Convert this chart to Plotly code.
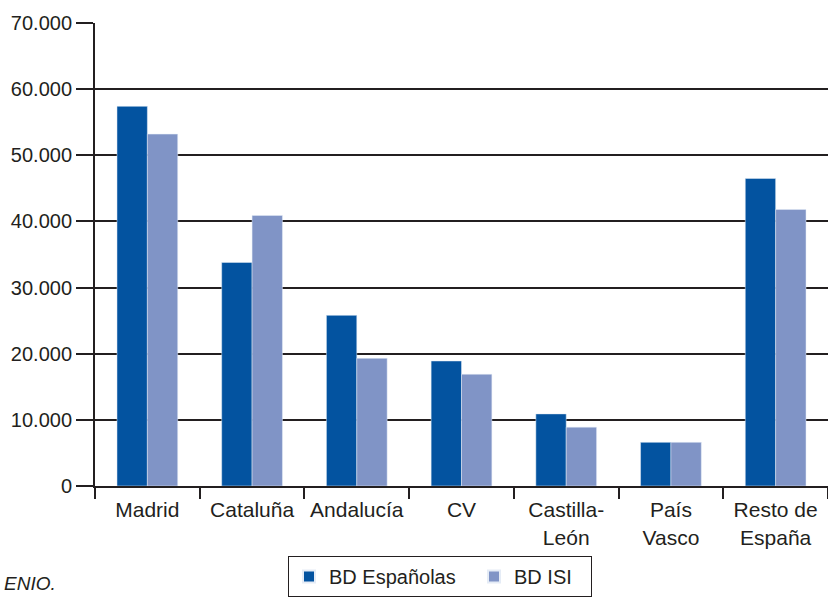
import plotly.graph_objects as go

categories = ["Madrid", "Cataluña", "Andalucía", "CV", "Castilla-<br>León", "País<br>Vasco", "Resto de<br>España"]
bd_espanolas = [57400, 33800, 25800, 18900, 10900, 6600, 46500]
bd_isi = [53200, 40900, 19300, 16900, 8900, 6600, 41800]
y_ticks = [0, 10000, 20000, 30000, 40000, 50000, 60000, 70000]
y_tick_labels = ["0", "10.000", "20.000", "30.000", "40.000", "50.000", "60.000", "70.000"]

DARK = "#0353A0"
LIGHT = "#8094C6"
INK = "#231F20"
FONT = "Liberation Sans Narrow, Arial Narrow, Liberation Sans, sans-serif"

L, R, T, B = 95, 0, 23, 114
PW, PH = 828 - L - R, 600 - T - B

def px_x(x):
    return (x - L) / PW

def px_y(y):
    return (600 - B - y) / PH

fig = go.Figure()
fig.add_trace(go.Bar(x=categories, y=bd_espanolas, name="BD Españolas",
                     marker_color=DARK, legendwidth=140))
fig.add_trace(go.Bar(x=categories, y=bd_isi, name="BD ISI",
                     marker_color=LIGHT, legendwidth=72))

fig.update_layout(
    width=828, height=600,
    margin=dict(l=L, r=R, t=T, b=B),
    paper_bgcolor="white", plot_bgcolor="white",
    barmode="group", bargap=0.42, bargroupgap=0,
    font=dict(family=FONT, size=21, color=INK),
    showlegend=True,
    legend=dict(
        orientation="h",
        xref="container", yref="container",
        x=288/828, y=1 - 556/600, xanchor="left", yanchor="top",
        bgcolor="white", bordercolor=INK, borderwidth=1,
        font=dict(family=FONT, size=20, color=INK),
        itemsizing="constant",
    ),
    annotations=[dict(
        text="<i>ENIO.</i>", xref="paper", yref="paper",
        x=px_x(58), y=px_y(583), xanchor="right", yanchor="middle",
        showarrow=False, font=dict(family=FONT, size=19, color=INK),
    )],
)
fig.update_xaxes(
    type="category", showline=True, linecolor=INK, linewidth=2,
    ticks="outside", tickson="boundaries", ticklen=11, tickwidth=2, tickcolor=INK,
    showgrid=False, zeroline=False, ticklabelstandoff=4,
    tickfont=dict(family=FONT, size=21, color=INK),
)
fig.update_yaxes(
    range=[0, 70000], tickvals=y_ticks, ticktext=y_tick_labels,
    showline=True, linecolor=INK, linewidth=2,
    showgrid=True, gridcolor=INK, gridwidth=2,
    ticks="outside", ticklen=17, tickwidth=2, tickcolor=INK,
    zeroline=False,
    tickfont=dict(family=FONT, size=20, color=INK),
)

fig.write_html("out.html")
